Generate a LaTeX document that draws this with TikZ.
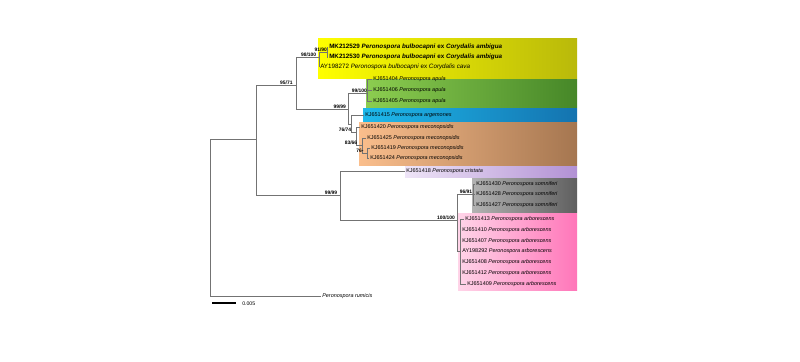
\documentclass[tikz,border=0pt]{standalone}
\usepackage{fontspec}
\setmainfont{Liberation Sans}
\usepackage{tikz}

\definecolor{treegray}{RGB}{115,115,115}
\definecolor{yelL}{RGB}{255,255,0}
\definecolor{yelR}{RGB}{185,185,10}
\definecolor{grnL}{RGB}{140,205,80}
\definecolor{grnR}{RGB}{70,135,40}
\definecolor{bluL}{RGB}{30,185,235}
\definecolor{bluR}{RGB}{20,115,175}
\definecolor{oraL}{RGB}{250,190,140}
\definecolor{oraR}{RGB}{165,118,80}
\definecolor{purL}{RGB}{238,228,247}
\definecolor{purR}{RGB}{178,145,212}
\definecolor{gryL}{RGB}{178,178,178}
\definecolor{gryR}{RGB}{95,95,95}
\definecolor{pnkL}{RGB}{255,212,232}
\definecolor{pnkR}{RGB}{255,118,185}

\begin{document}
\begin{tikzpicture}[x=0.75pt,y=0.75pt,yscale=-1,xscale=1,
	branch/.style={draw=treegray, line width=0.55pt},
	leaf/.style={anchor=west, inner sep=0.75pt, font=\fontsize{4.1}{5}\selectfont},
	leafbig/.style={leaf, font=\fontsize{4.7}{5.5}\selectfont},
	leafbold/.style={leaf, font=\fontsize{4.7}{5.5}\selectfont\bfseries},
	support/.style={anchor=south east, inner sep=0.4pt, font=\fontsize{3.7}{4.4}\selectfont\bfseries}]
				\useasboundingbox (0,0) rectangle (800,361);

				%Shape: Rectangle (clade backgrounds)
				\shade [left color=yelL, right color=yelR] (318,38) rectangle (577,78);
				\shade [left color=grnL, right color=grnR] (366,79) rectangle (577,107.5);
				\shade [left color=bluL, right color=bluR] (363,108.5) rectangle (577,121);
				\shade [left color=oraL, right color=oraR] (359,122) rectangle (577,165);
				\shade [left color=purL, right color=purR] (405,166) rectangle (577,177);
				\shade [left color=gryL, right color=gryR] (472,178) rectangle (577,212);
				\shade [left color=pnkL, right color=pnkR] (458,213) rectangle (577,290);

				%Internal nodes
				\coordinate (root) at (210,218);
				\coordinate (n1) at (256,139);
				\coordinate (n95) at (296,85);
				\coordinate (nY) at (319,57);
				\coordinate (nM) at (327,52);
				\coordinate (nA) at (348,109);
				\coordinate (nG) at (367,93);
				\coordinate (nB) at (351,124);
				\coordinate (nC) at (356,132);
				\coordinate (nD) at (362,145);
				\coordinate (nE) at (367,153);
				\coordinate (nP) at (340,195);
				\coordinate (nQ) at (457,220);
				\coordinate (nS) at (473,194);
				\coordinate (nR) at (460,251);

				% Text Node
				\node [leafbold] (mk529) at (328,47) {MK212529 \textit{Peronospora bulbocapni} ex \textit{Corydalis ambigua}};
				\node [leafbold] (mk530) at (328,57) {MK212530 \textit{Peronospora bulbocapni} ex \textit{Corydalis ambigua}};
				\node [leafbig] (ay272) at (319,67) {AY198272 \textit{Peronospora bulbocapni} ex \textit{Corydalis cava}};
				\node [leaf] (kj404) at (372,79) {KJ651404 \textit{Peronospora apula}};
				\node [leaf] (kj406) at (372,90) {KJ651406 \textit{Peronospora apula}};
				\node [leaf] (kj405) at (372,101) {KJ651405 \textit{Peronospora apula}};
				\node [leaf] (kj415) at (364,115) {KJ651415 \textit{Peronospora argemones}};
				\node [leaf] (kj420) at (360,127) {KJ651420 \textit{Peronospora meconopsidis}};
				\node [leaf] (kj425) at (366,138) {KJ651425 \textit{Peronospora meconopsidis}};
				\node [leaf] (kj419) at (370,148) {KJ651419 \textit{Peronospora meconopsidis}};
				\node [leaf] (kj424) at (369,158) {KJ651424 \textit{Peronospora meconopsidis}};
				\node [leaf] (kj418) at (405,171) {KJ651418 \textit{Peronospora cristata}};
				\node [leaf] (kj430) at (475,184) {KJ651430 \textit{Peronospora somniferi}};
				\node [leaf] (kj428) at (475,194) {KJ651428 \textit{Peronospora somniferi}};
				\node [leaf] (kj427) at (475,205) {KJ651427 \textit{Peronospora somniferi}};
				\node [leaf] (kj413) at (464,219) {KJ651413 \textit{Peronospora arborescens}};
				\node [leaf] (kj410) at (461,230) {KJ651410 \textit{Peronospora arborescens}};
				\node [leaf] (kj407) at (461,241) {KJ651407 \textit{Peronospora arborescens}};
				\node [leaf] (ay292) at (461,251) {AY198292 \textit{Peronospora arborescens}};
				\node [leaf] (kj408) at (461,262) {KJ651408 \textit{Peronospora arborescens}};
				\node [leaf] (kj412) at (461,273) {KJ651412 \textit{Peronospora arborescens}};
				\node [leaf] (kj409) at (466,284) {KJ651409 \textit{Peronospora arborescens}};
				\node [leaf] (rumicis) at (321,296) {\textit{Peronospora rumicis}};

				%Straight Lines (branches)
				\draw [branch] (root) |- (n1);
				\draw [branch] (root) |- (rumicis.west);
				\draw [branch] (n1) |- (n95);
				\draw [branch] (n1) |- (nP);
				\draw [branch] (n95) |- (nY);
				\draw [branch] (n95) |- (nA);
				\draw [branch] (nY) |- (nM);
				\draw [branch] (nY) |- (ay272.west);
				\draw [branch] (nM) |- (mk529.west);
				\draw [branch] (nM) |- (mk530.west);
				\draw [branch] (nA) |- (nG);
				\draw [branch] (nA) |- (nB);
				\draw [branch] (nG) |- (kj404.west);
				\draw [branch] (nG) |- (kj406.west);
				\draw [branch] (nG) |- (kj405.west);
				\draw [branch] (nB) |- (kj415.west);
				\draw [branch] (nB) |- (nC);
				\draw [branch] (nC) |- (kj420.west);
				\draw [branch] (nC) |- (nD);
				\draw [branch] (nD) |- (kj425.west);
				\draw [branch] (nD) |- (nE);
				\draw [branch] (nE) |- (kj419.west);
				\draw [branch] (nE) |- (kj424.west);
				\draw [branch] (nP) |- (kj418.west);
				\draw [branch] (nP) |- (nQ);
				\draw [branch] (nQ) |- (nS);
				\draw [branch] (nQ) |- (nR);
				\draw [branch] (nS) |- (kj430.west);
				\draw [branch] (nS) |- (kj428.west);
				\draw [branch] (nS) |- (kj427.west);
				\draw [branch] (nR) |- (kj413.west);
				\draw [branch] (nR) |- (kj410.west);
				\draw [branch] (nR) |- (kj407.west);
				\draw [branch] (nR) |- (ay292.west);
				\draw [branch] (nR) |- (kj408.west);
				\draw [branch] (nR) |- (kj412.west);
				\draw [branch] (nR) |- (kj409.west);

				% Text Node (support values)
				\node [support] (s95) at ([xshift=-2]n95) {95/71};
				\node [support] (sY) at ([xshift=-1.5]nY) {98/100};
				\node [support] (sM) at ([xshift=0.5,yshift=0.5]nM) {91/90};
				\node [support] (sA) at ([xshift=-1]nA) {99/99};
				\node [support] (sG) at ([xshift=0.5]nG) {99/100};
				\node [support] (sC) at ([xshift=-3]nC) {76/74};
				\node [support] (sD) at ([xshift=-3]nD) {83/66};
				\node [support] (sE) at ([xshift=-2]nE) {76-};
				\node [support] (sP) at ([xshift=-1.5]nP) {99/99};
				\node [support] (sQ) at ([xshift=-1]nQ) {100/100};
				\node [support] (sS) at ([xshift=0]nS) {96/91};

				%Scale bar
				\coordinate (sbl) at (212,303);
				\coordinate (sbr) at (236,303);
				\draw [line width=1.1pt] (sbl) -- (sbr);
				\node [leaf, font=\fontsize{3.9}{4.6}\selectfont] (sbtext) at (241,304) {0.005};

			\end{tikzpicture}
\end{document}
